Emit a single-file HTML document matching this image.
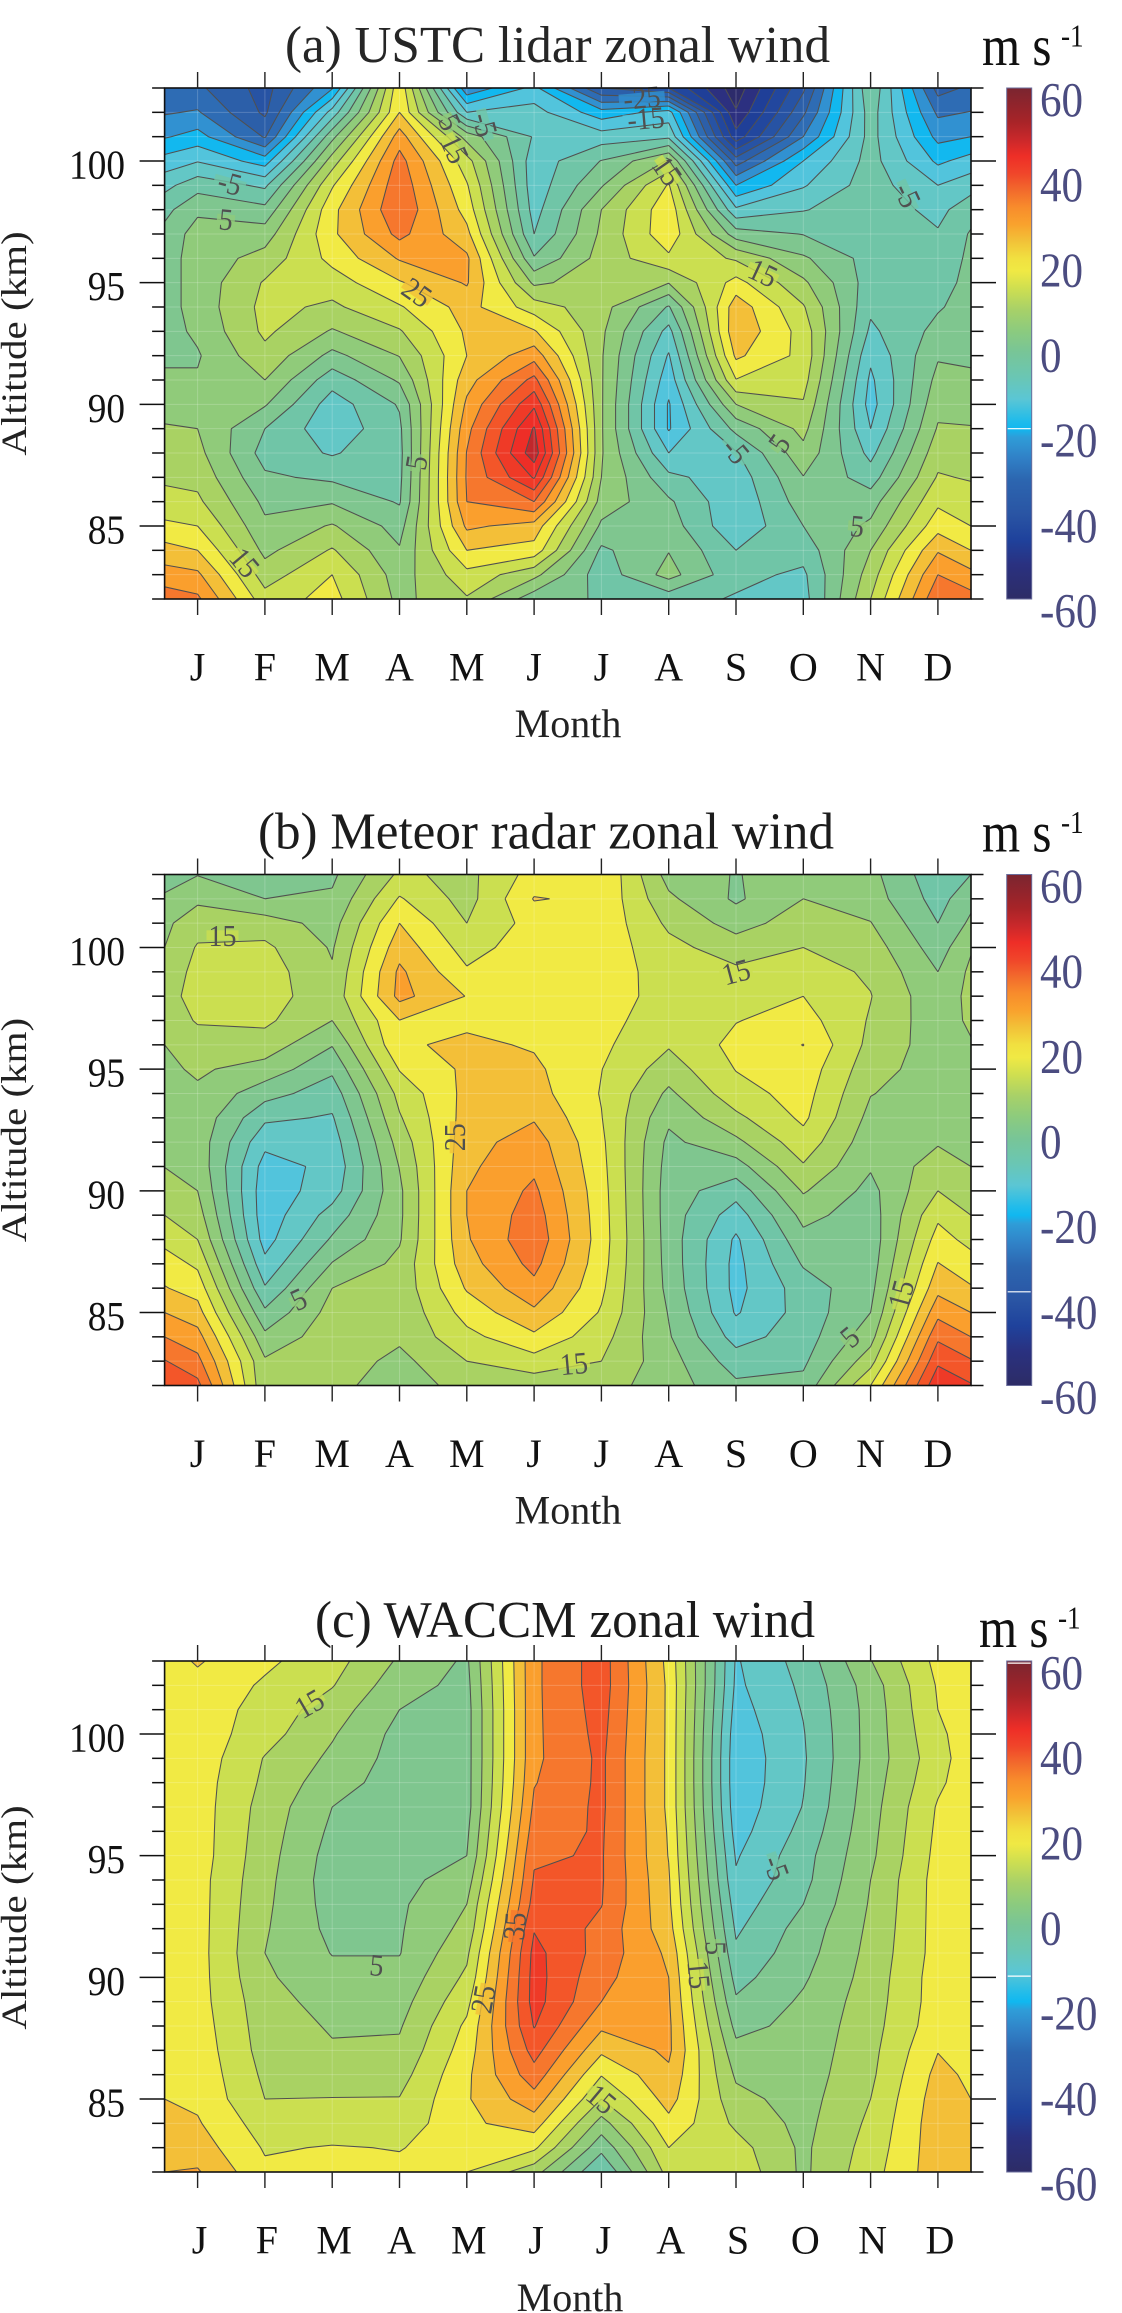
<!DOCTYPE html>
<html lang="en">
<head>
<meta charset="utf-8">
<title>Zonal wind climatology</title>
<style>
html,body{margin:0;padding:0;background:#fff;}
svg{display:block;font-family:"Liberation Serif",serif;}
</style>
</head>
<body>
<svg id="figure" xmlns="http://www.w3.org/2000/svg" width="1122" height="2313" viewBox="0 0 1122 2313">
  <defs>
    <linearGradient id="cbar-gradient" x1="0" y1="0" x2="0" y2="1"></linearGradient>
  </defs>
  <rect x="0" y="0" width="1122" height="2313" fill="#fff"/>

  <g id="panel-a"></g>
  <g id="panel-b"></g>
  <g id="panel-c"></g>

  <text x="285" y="62" font-size="52" fill="#262626" textLength="545" lengthAdjust="spacingAndGlyphs">(a) USTC lidar zonal wind</text>
  <text x="258" y="848.5" font-size="52" fill="#1c1c1c" textLength="576" lengthAdjust="spacingAndGlyphs">(b) Meteor radar zonal wind</text>
  <text x="315" y="1637" font-size="52" fill="#1c1c1c" textLength="500" lengthAdjust="spacingAndGlyphs">(c) WACCM zonal wind</text>

  <text x="568" y="737" font-size="40" fill="#222" text-anchor="middle">Month</text>
  <text x="568" y="1523.5" font-size="40" fill="#222" text-anchor="middle">Month</text>
  <text x="570" y="2311" font-size="40" fill="#222" text-anchor="middle">Month</text>

  <text transform="translate(26,343.5) rotate(-90) scale(1,.88)" font-size="41" fill="#222" text-anchor="middle">Altitude (km)</text>
  <text transform="translate(26,1130) rotate(-90) scale(1,.88)" font-size="41" fill="#222" text-anchor="middle">Altitude (km)</text>
  <text transform="translate(26,1917.5) rotate(-90) scale(1,.88)" font-size="41" fill="#222" text-anchor="middle">Altitude (km)</text>

  <text transform="translate(982,65) scale(.86,1)" font-size="57" fill="#111">m s</text>
  <text transform="translate(1061,46.7) scale(.85,1)" font-size="32" fill="#111">-1</text>
  <text transform="translate(982,851.5) scale(.86,1)" font-size="57" fill="#111">m s</text>
  <text transform="translate(1061,833.2) scale(.85,1)" font-size="32" fill="#111">-1</text>
  <text transform="translate(979,1647) scale(.86,1)" font-size="57" fill="#111">m s</text>
  <text transform="translate(1058,1628.7) scale(.85,1)" font-size="32" fill="#111">-1</text>
</svg>

<script>
// ---------- chart data ----------
const monthLabels = ['J','F','M','A','M','J','J','A','S','O','N','D'];
const altitudes = [103,102,101,100,99,98,97,96,95,94,93,92,91,90,89,88,87,86,85,84,83,82];
const altitudeTickLabels = [100,95,90,85];
const colorbarTickLabels = [60,40,20,0,-20,-40,-60];

// Month coordinate of each grid column: left plot edge, J..D, right plot edge.
const gridMonths = [-0.49,0,1,2,3,4,5,6,7,8,9,10,11,11.49];

// Wind (m/s). One array per grid column, each running from 103 km down to 82 km.
const lidarWind = [
  [-29,-25.5,-20.5,-13,-6.5,-1.5,1.5,3,3,3,3,4,6,8,10.5,12,14,17,21,27,32,38],
  [-29,-24.5,-18,-10.3,-2,4,7.2,7,7,7,6,4.5,5.5,8,10,11.5,13.5,16,20,25,31,36],
  [-37,-36,-30.5,-17.5,-6,1.5,7.5,12,15.5,16.5,16,13.5,10,5.5,0,-2,0.8,3.8,6,8.7,12.5,17],
  [-20.5,-8,3.5,12.5,19.5,23.5,24,21.5,17.5,14,9.5,3.5,-3,-7.5,-8.5,-5.5,-1,4.5,10.5,15.5,20,22],
  [24,25,32.5,37,38.5,39.5,36.5,30.5,24.5,19.5,14.5,10.2,5.7,0.5,-1,-1.5,-1.2,-0.5,3,5.5,7.5,8.5],
  [-24,-10,8,17,20.5,23,26.5,31,30.5,27,25.8,25,28,31,33.5,35.2,35.5,35,31,25,18.4,14.5],
  [-13.5,-8,-5.5,-8,-8,-7,-5,0.5,9,17.5,25.5,33,41.5,49,55.5,58,50.5,40,28,23,11.5,2],
  [-35,-18,-7.5,0.2,4.5,10,11,12,12.5,12,11,10.5,10.5,10.5,10.5,10.5,10,8,4,-1,-3,-0.5],
  [-40,-13,-6,10.5,20.5,23.5,23.5,19,10.2,-0.5,-6.7,-10.5,-13,-15.5,-15.5,-10,-3.7,0.8,2.5,4.8,6.9,-3],
  [-58,-54.5,-48,-32.5,-20,-9,2.5,14.3,21.8,28,29,26,19.8,10,1.5,-5.5,-8,-9,-9,-5,-3.5,-5.5],
  [-36,-31,-25,-15,-10.5,-5.3,-0.2,5.8,11,15.5,18,18.5,17,14.5,11.5,8.5,4.8,2.5,0,-3,-6,-7],
  [-0.5,-2.5,-3,-3,-2.5,-2,-2,-2,-2.5,-4,-6,-9,-11,-12,-10,-6.5,-2.5,2.7,6,10,12.5,15],
  [-32,-26,-21.5,-16,-10,-6.5,-4.5,-3,-2,-0.5,1.5,4.5,6.5,8.5,10.5,13,15.5,19,23,29.5,35,39],
  [-29,-24.8,-20,-13,-7,-2,0.5,1,1.5,2,3,4,6,8,10.3,12.5,14.5,17.5,20,25,31.5,37]
];
const meteorWind = [
  [2,6,9,10,12,13,12,10,9,8.5,8,8,9.9,12.5,15,18.5,22.5,25.3,30,35,40.3,45],
  [4.8,9,12.8,15.5,16.5,17,15.5,12.5,10.7,9.2,8.5,8,8.5,10,12.2,15,19,23,27,32,36.5,41.5],
  [0,5,12.5,16,17.5,17.5,16,12.8,8,2,-4,-8.7,-12,-13,-13,-12,-8.7,-4.5,1,6.3,10.7,11],
  [4,5.8,8,9.5,10.5,11.5,10,5.3,1,-2.7,-5.5,-7.5,-8.7,-7.3,-3,0.7,5.3,10,12,13,13,12],
  [16,20.5,25,28,31,31.5,24.9,24.3,20.3,16.5,14.5,12,10.2,9,9,9.5,11.3,11.5,11,11,8.5,6.5],
  [13.5,13,15,17.8,20.7,24.8,24,26,26,26.5,27,28,29,30,30,29.5,28,25.5,22,18.5,15,12.5],
  [22,25.3,22,23,23.5,24.8,24,24.5,26,27,29.5,32.5,34,36,37.5,38.5,36.5,33.5,29,24,18,12],
  [24.9,24,23.5,23,23,22.5,21.5,21,20.1,19.7,20.2,21,21.5,22,22.3,22.5,22,21,19.5,17,15,12],
  [8,11,14,16.5,17.5,18,17.5,15.5,12.5,9,6,3.8,3,2.5,2.5,2.7,3,3.5,4.7,5.5,7,7.5],
  [4.7,4.2,8,12.5,16,18,19.8,21.5,20.2,18,13.8,8.8,2.8,-3,-7.5,-10.8,-11.5,-11.5,-10.5,-7,-2.5,1],
  [8,10,12.5,15,17.5,20,22,25.1,23,22,21,18,14.5,10.5,6.5,3.5,0.5,-2.5,-3,-2.5,-1,1.5],
  [6.5,7.5,10.2,12.5,14.2,15.2,14.5,13.5,12,10.2,8.5,7,5.5,3.5,2.5,2,2.5,3.5,5,8,13,20],
  [-3.5,-2,0,2.5,5,6.5,7,7.5,7.5,7.5,8,9.5,12.5,15,19,22,25.2,28.5,33.5,39,44,49],
  [0,3.5,6,9.5,11,11.5,11,9.5,8.5,8,7.5,8,10,12.5,15,18.5,22,25.5,30,35,40.5,45.5]
];
const waccmWind = [
  [23,23,23,23,23,23,23,23,23,23,23,23,23,23,23,23,23.5,24,25,26.5,28,30],
  [25.5,23.5,23,23,23,22.5,22.5,22.5,22.5,22,22,22,22,22,22,22.5,23,23.5,24,25.5,27.5,30.5],
  [21,19.3,18,17,14.7,14,13,12.5,12,11.5,11,10.5,10,10.8,12,12.5,13,14,15,17.5,19.5,21],
  [17,15.3,12.5,10.5,9,7,5,4,3,2.5,3,3.7,4.8,6.5,8,9.5,10.5,12,15.2,17.5,20.3,21],
  [9.3,7,5,3.5,3,2.8,2.8,2.8,3,3.5,4.2,4.5,4.8,6.5,8,9.5,11,13,15.2,17,19.8,21],
  [4.2,3.5,3,3,3,3,3,4,5,7.5,10,11.5,14,16,18.5,21,22.5,24,24.5,24,22,20],
  [34,34,34,34,34,34.7,36,37.5,39.3,40.5,42,44.7,46.5,47,47,45.3,42,38,33,27.5,21,12],
  [42.5,42.5,42,41.5,41,41,41,40.7,40.5,40.5,40.2,38.5,38,36.5,35,31,26,20.3,15,8,1.5,-5],
  [23.5,24,24,24,24,24,24,24.5,24.8,25.5,26,27,29,30,30.5,31,31,29,27,23.6,20,17],
  [-10.5,-11,-12,-13,-13.5,-13.5,-13,-12,-10.5,-9.3,-7.5,-5.8,-4,-1.8,0.7,3.5,6.5,9.2,11.5,14,17,18.5],
  [-3,-4,-4.7,-5.3,-5.6,-5.3,-4.8,-3.5,-2,-1.5,0,2,3,4.3,5.8,6.5,7,7.5,8,8.5,9,9],
  [9.8,7.5,7,7,7,7.5,8,8.5,9,10,10.5,11,11.5,12,12.5,13,13.5,14,15,16,17,18],
  [21.5,20.5,20,19,18,19,20.5,21,21.5,22,22,22,22,22.5,22.5,23,24.8,26.5,27.5,28,28,28],
  [22,22.5,22.5,22.5,23,23,23,23,23,23,23,23,23,23,23,23,23.5,24,25,26,27,28]
];

// Contour labels: text, level, month coordinate, altitude (km), tilt (deg).
const lidarContourLabels = [
  ['5',5,0.42,97.6,5],['-5',-5,0.48,99.1,15],['15',15,0.7,83.5,50],['25',25,3.26,94.6,35],
  ['5',5,3.25,87.6,-80],['5',5,3.75,101.6,65],['-5',-5,4.27,101.5,75],['15',15,3.82,100.5,65],
  ['-25',-25,6.6,102.6,-5],['-15',-15,6.66,101.75,-5],['15',15,6.98,99.6,55],['15',15,8.4,95.4,25],
  ['-5',-5,8,88.1,50],['5',5,8.64,88.4,-55],['5',5,9.8,85,5],['-5',-5,10.55,98.6,65]
];
const meteorContourLabels = [
  ['15',15,0.37,100.5,0],['5',5,1.5,85.55,-25],['25',25,3.82,92.2,-90],['15',15,5.59,82.9,-5],
  ['15',15,8,99,-15],['5',5,9.69,84,-40],['15',15,10.45,85.75,-75]
];
const waccmContourLabels = [
  ['15',15,1.66,101.25,-30],['5',5,2.66,90.5,5],['25',25,4.24,89.1,-80],['35',35,4.71,92.1,-85],
  ['-5',-5,8.6,94.5,70],['5',5,7.7,91.2,90],['15',15,7.45,90.1,85],['15',15,6,85,40]
];

// ---------- styling ----------
const contourLevels = [-60,-55,-50,-45,-40,-35,-30,-25,-20,-15,-10,-5,0,5,10,15,20,25,30,35,40,45,50,55,60];
const bandColors = ['#2d2b6b','#2c3080','#1f3f98','#22479e','#2753a4','#2c5fa9','#2e6cb4','#3191d1','#12b8ef','#52c4dc','#63c7c6','#70c5a7','#7fc68f','#90cb7a','#a9d263','#cbdf50','#f1ea44','#f3bf38','#fa9f2d','#f6772d','#f35629','#ef3a27','#ee2e27','#c0272c'];
const gradientStops = [[60,'#7a2530'],[52,'#a82428'],[48,'#c9282b'],[44,'#ee2e27'],[40,'#f0452a'],[36,'#f26a2c'],[32,'#f88c2c'],[28,'#f9a22d'],[24,'#f2c238'],[20,'#f1e040'],[17,'#f0e944'],[13,'#cfdf50'],[8,'#a8d168'],[3,'#8ccb7e'],[-2,'#78c597'],[-8,'#6ac6b4'],[-13,'#5bc6d4'],[-18,'#22bcea'],[-20,'#10b8f0'],[-22,'#2f9dd8'],[-27,'#3080c6'],[-32,'#2c66b0'],[-40,'#2a55a4'],[-46,'#1f429c'],[-52,'#2a3180'],[-60,'#2d2c66']];

const SVGNS = 'http://www.w3.org/2000/svg';
const PLOT_LEFT = 164.6, PLOT_RIGHT = 971, MONTH0 = 197.6, MONTH_STEP = 67.3, PLOT_HEIGHT = 511;
const CBAR_LEFT = 1006.7, CBAR_WIDTH = 25;

function make(tag, attrs, parent) {
  const el = document.createElementNS(SVGNS, tag);
  for (const k in attrs) el.setAttribute(k, attrs[k]);
  parent.appendChild(el);
  return el;
}

const grad = document.getElementById('cbar-gradient');
gradientStops.forEach(function (s) {
  make('stop', { offset: ((60 - s[0]) / 120).toFixed(4), 'stop-color': s[1] }, grad);
});

function clipAbove(poly, level, sign) {
  // keep the part of poly where sign*(v-level) >= 0
  const out = [];
  for (let i = 0; i < poly.length; i++) {
    const a = poly[i], b = poly[(i + 1) % poly.length];
    const da = sign * (a[2] - level), db = sign * (b[2] - level);
    if (da >= 0) out.push(a);
    if ((da >= 0) !== (db >= 0)) {
      const t = da / (da - db);
      out.push([a[0] + t * (b[0] - a[0]), a[1] + t * (b[1] - a[1]), level]);
    }
  }
  return out;
}

function drawPanel(group, key, topY, wind, contourLabels, monthShift, whiteLines) {
  const xScale = function (m) { return MONTH0 + m * MONTH_STEP; };
  const yScale = function (alt) { return topY + (103 - alt) * (PLOT_HEIGHT / 21); };
  const bottomY = topY + PLOT_HEIGHT;

  // grid cells (quads) placed through the axis functions
  const cells = [];
  for (let c = 0; c < gridMonths.length - 1; c++) {
    for (let r = 0; r < altitudes.length - 1; r++) {
      cells.push([
        [xScale(gridMonths[c]), yScale(altitudes[r]), wind[c][r]],
        [xScale(gridMonths[c + 1]), yScale(altitudes[r]), wind[c + 1][r]],
        [xScale(gridMonths[c + 1]), yScale(altitudes[r + 1]), wind[c + 1][r + 1]],
        [xScale(gridMonths[c]), yScale(altitudes[r + 1]), wind[c][r + 1]]
      ]);
    }
  }

  // filled bands
  const bandsGroup = make('g', {}, group);
  
  
  for (let b = 0; b < bandColors.length; b++) {
    const lo = contourLevels[b], hi = contourLevels[b + 1];
    let d = '';
    cells.forEach(function (t) {
      let poly = clipAbove(t, lo, 1);
      if (poly.length) poly = clipAbove(poly, hi, -1);
      if (poly.length > 2) {
        d += 'M' + poly.map(function (p) { return p[0].toFixed(1) + ' ' + p[1].toFixed(1); }).join('L') + 'Z';
      }
    });
    if (d) {
      const band = make('path', { d: d, fill: bandColors[b], stroke: bandColors[b], 'stroke-width': 0.7 }, bandsGroup);
      
      
    }
  }

  // faint seams of the original raster
  const seams = make('g', { stroke: '#fff', 'stroke-opacity': 0.2, 'stroke-width': 1 }, group);
  
  
  monthLabels.forEach(function (m, i) {
    make('line', { x1: xScale(i), x2: xScale(i), y1: topY, y2: bottomY }, seams);
  });
  altitudes.forEach(function (a) {
    make('line', { x1: PLOT_LEFT, x2: PLOT_RIGHT, y1: yScale(a), y2: yScale(a) }, seams);
  });

  // contour lines (marching squares)
  const linesGroup = make('g', { fill: 'none', stroke: '#505050', 'stroke-width': 1.05 }, group);
  
  
  contourLevels.forEach(function (level) {
    let d = '';
    const seg = function (p, q) {
      d += 'M' + p[0].toFixed(1) + ' ' + p[1].toFixed(1) + 'L' + q[0].toFixed(1) + ' ' + q[1].toFixed(1);
    };
    cells.forEach(function (t) {
      const pts = [];
      for (let i = 0; i < 4; i++) {
        const a = t[i], b = t[(i + 1) % 4];
        if ((a[2] >= level) !== (b[2] >= level)) {
          const f = (level - a[2]) / (b[2] - a[2]);
          pts.push([a[0] + f * (b[0] - a[0]), a[1] + f * (b[1] - a[1]), i]);
        }
      }
      if (pts.length === 2) {
        seg(pts[0], pts[1]);
      } else if (pts.length === 4) {
        const mean = (t[0][2] + t[1][2] + t[2][2] + t[3][2]) / 4;
        if ((mean >= level) === (t[0][2] >= level)) {
          seg(pts[0], pts[1]);
          seg(pts[2], pts[3]);
        } else {
          seg(pts[1], pts[2]);
          seg(pts[3], pts[0]);
        }
      }
    });
    if (d) {
      const line = make('path', { d: d }, linesGroup);
      
      
    }
  });

  // contour labels
  contourLabels.forEach(function (lab) {
    const cx = xScale(lab[2]), cy = yScale(lab[3]);
    const g = make('g', { transform: 'translate(' + cx.toFixed(1) + ',' + cy.toFixed(1) + ') rotate(' + lab[4] + ')' }, group);
    
    
    const idx = contourLevels.indexOf(lab[1]);
    const w = lab[0].length * 14 + 4;
    make('rect', { x: -w / 2, y: -5, width: w, height: 10, fill: bandColors[idx], opacity: 0.8 }, g);
    const tx = make('text', { 'font-size': 31, fill: '#505050', 'text-anchor': 'middle', transform: 'translate(0,10.5) scale(.9,1)' }, g);
    tx.textContent = lab[0];
  });

  // frame
  const frame = make('rect', { x: PLOT_LEFT, y: topY, width: PLOT_RIGHT - PLOT_LEFT, height: PLOT_HEIGHT, fill: 'none', stroke: '#111', 'stroke-width': 1.6 }, group);
  
  

  // x axis
  monthLabels.forEach(function (m, i) {
    const x = xScale(i);
    const top = make('line', { x1: x, x2: x, y1: topY - 16, y2: topY, stroke: '#222', 'stroke-width': 1.4 }, group);
    
    
    const bot = make('line', { x1: x, x2: x, y1: bottomY, y2: bottomY + 16, stroke: '#222', 'stroke-width': 1.4 }, group);
    
    
    const label = make('text', { x: x + monthShift, y: bottomY + 81.7, 'font-size': 40, fill: '#111', 'text-anchor': 'middle' }, group);
    
    
    label.textContent = m;
  });

  // y axis
  altitudes.forEach(function (a) {
    const major = altitudeTickLabels.indexOf(a) >= 0;
    const len = major ? 25 : 12.5;
    const y = yScale(a);
    const l = make('line', { x1: PLOT_LEFT - len, x2: PLOT_LEFT, y1: y, y2: y, stroke: '#111', 'stroke-width': 1.5 }, group);
    
    
    const r = make('line', { x1: PLOT_RIGHT, x2: PLOT_RIGHT + len, y1: y, y2: y, stroke: '#111', 'stroke-width': 1.5 }, group);
    
    
  });
  altitudeTickLabels.forEach(function (a) {
    const t = make('text', { transform: 'translate(125,' + (yScale(a) + 17.5).toFixed(1) + ') scale(.91,1)', 'font-size': 41, fill: '#111', 'text-anchor': 'end' }, group);
    
    
    t.textContent = a;
  });

  // colour bar
  const cScale = function (v) { return topY + (60 - v) * (PLOT_HEIGHT / 120); };
  const bar = make('rect', { x: CBAR_LEFT, y: topY, width: CBAR_WIDTH, height: PLOT_HEIGHT, fill: 'url(#cbar-gradient)', stroke: '#6a6d9c', 'stroke-width': 1 }, group);
  
  
  whiteLines.forEach(function (v) {
    const s = make('line', { x1: CBAR_LEFT + 1, x2: CBAR_LEFT + CBAR_WIDTH - 1, y1: cScale(v), y2: cScale(v), stroke: '#fff', 'stroke-width': 1.2 }, group);
    
    
  });
  colorbarTickLabels.forEach(function (v) {
    const t = make('text', { transform: 'translate(1040,' + (cScale(v) + 28).toFixed(1) + ') scale(.88,1)', 'font-size': 49, fill: '#4b4c80' }, group);
    
    
    t.textContent = v;
  });
}

drawPanel(document.getElementById('panel-a'), 'a', 88, lidarWind, lidarContourLabels, 0, [-20]);
drawPanel(document.getElementById('panel-b'), 'b', 874.5, meteorWind, meteorContourLabels, 0, [-38]);
drawPanel(document.getElementById('panel-c'), 'c', 1661, waccmWind, waccmContourLabels, 2, [59.5, -14]);
</script>
</body>
</html>
